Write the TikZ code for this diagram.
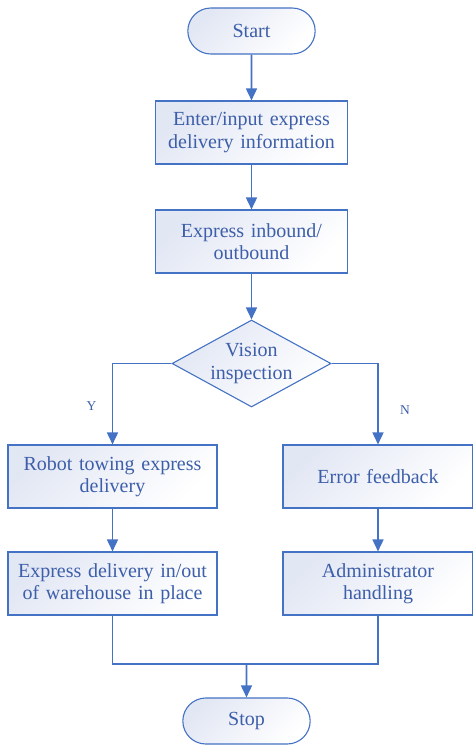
\documentclass[tikz,border=0pt]{standalone}
\usepackage{fontspec}
\setmainfont{Liberation Serif}
\usetikzlibrary{shapes.geometric, shapes.misc, arrows.meta, positioning}
\definecolor{flowblue}{HTML}{4472C4}
\definecolor{flowtext}{HTML}{3D5EA9}
\definecolor{flowfill}{HTML}{E2E7F4}
\tikzstyle{arrow} = [line width=1.6pt, draw=flowblue, -{Triangle[length=12pt,width=11pt]}]
\tikzstyle{line} = [line width=1.6pt, draw=flowblue]
\tikzstyle{filled} = [draw=flowblue, line width=1.1pt, top color=flowfill, bottom color=white, shading angle=45]
\tikzstyle{terminal} = [rounded rectangle, minimum width=134pt, minimum height=46pt, filled]
\tikzstyle{process} = [rectangle, minimum width=192pt, minimum height=63pt, text width=186pt, inner xsep=2pt, align=center, filled]
\tikzstyle{decision} = [diamond, minimum width=159pt, minimum height=87pt, inner sep=0pt, aspect=1.83, align=center, filled]
\tikzstyle{branch} = [font=\fontsize{13.5}{15}\selectfont]

\begin{document}
\begin{tikzpicture}[x=1pt, y=1pt, node distance=109pt, font=\fontsize{20}{22.5}\selectfont, text=flowtext]
\useasboundingbox (0,0) rectangle (473,-745);
%----------------------------------------------------------------------------
% Placement of flowchart nodes
\node (start) [terminal] at (251.5,-31) {Start};
\node (enterInfo) [process, below of=start, yshift=7.5pt] {Enter/input express\\delivery information};
\node (inOut) [process, below of=enterInfo] {Express inbound/\\outbound};

% vision decision block
\node (vision) [decision, below of=inOut, yshift=-13pt] {Vision\\inspection};

\node (towing) [process, minimum width=209pt, text width=205pt, below of=vision, xshift=-139pt, yshift=-4pt] {Robot towing express\\delivery};
\node (feedback) [process, minimum width=190pt, text width=184pt, below of=vision, xshift=126.5pt, yshift=-4pt] {Error feedback};

\node (inPlace) [process, minimum width=209pt, text width=205pt, below of=towing, yshift=2pt] {Express delivery in/out\\of warehouse in place};
\node (handling) [process, minimum width=190pt, text width=184pt, below of=feedback, yshift=2pt] {Administrator\\handling};

\node (stop) [terminal] at (246.5,-721) {Stop};
\coordinate (merge) at (246.5,-664);

%----------------------------------------------------------------------------
% Drawing of lines of main chart
\draw [arrow] (start) -- (enterInfo);
\draw [arrow] (enterInfo) -- (inOut);
\draw [arrow] (inOut) -- (vision);

\draw [arrow] (towing) -- (inPlace);
\draw [arrow] (feedback) -- (handling);

%----------------------------------------------------------------------------
% Draw decision lines
\draw [arrow] (vision.west) -| node[branch, pos=0.76, left=12pt] {Y} (towing);
\draw [arrow] (vision.east) -| node[branch, pos=0.785, right=18pt] {N} (feedback);

\draw [line] (inPlace) |- (merge) -| (handling);
\draw [arrow] (merge) -- (stop);

\end{tikzpicture}
\end{document}
